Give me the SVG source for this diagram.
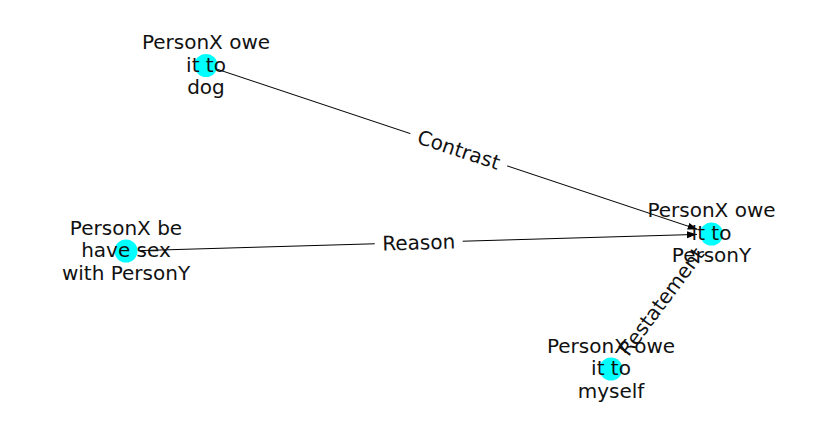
<svg xmlns="http://www.w3.org/2000/svg" width="837" height="434" viewBox="0 0 837 434">
<style>
  text { font-family: "DejaVu Sans", sans-serif; font-size: 20px; fill: #111; text-anchor: middle; }
  .edge { stroke: #000; stroke-width: 1; fill: none; marker-end: url(#arrow); }
  .lblbox { fill: #fff; stroke: none; }
  .node { fill: #00ffff; stroke: none; }
</style>
<defs>
  <marker id="arrow" markerUnits="userSpaceOnUse" markerWidth="12" markerHeight="8" refX="10" refY="3.5" orient="auto">
    <path d="M0,0 L10,3.5 L0,7 z" fill="#000"/>
  </marker>
</defs>
<rect width="837" height="434" fill="#fff"/>
<g id="edges">
  <line class="edge" x1="217.4" y1="69.3" x2="697.7" y2="229.4"/>
  <line class="edge" x1="138" y1="250.65" x2="697" y2="234.42"/>
  <line class="edge" x1="618.2" y1="359.4" x2="702.8" y2="245.6"/>
</g>
<g id="edge-labels">
  <g transform="translate(458.75,149.75) rotate(18.43)">
    <rect class="lblbox" x="-51" y="-15" width="102" height="30" rx="4"/>
    <text y="7">Contrast</text>
  </g>
  <g transform="translate(418.75,242.5) rotate(-1.66)">
    <rect class="lblbox" x="-44" y="-15" width="88" height="30" rx="4"/>
    <text y="7">Reason</text>
  </g>
  <g transform="translate(661.25,301.5) rotate(-53.34)">
    <rect class="lblbox" x="-72" y="-15" width="144" height="30" rx="4"/>
    <text y="7">Restatement</text>
  </g>
</g>
<g id="node-dog">
  <circle class="node" cx="206" cy="65.5" r="11.5"/>
  <text x="206" y="49">PersonX owe</text>
  <text x="206" y="71.5">it to</text>
  <text x="206" y="94">dog</text>
</g>
<g id="node-persony">
  <circle class="node" cx="711.5" cy="234" r="11.5"/>
  <text x="711.5" y="217">PersonX owe</text>
  <text x="711.5" y="239.5">it to</text>
  <text x="711.5" y="262">PersonY</text>
</g>
<g id="node-sex">
  <circle class="node" cx="126" cy="251" r="11.5"/>
  <text x="126" y="234.5">PersonX be</text>
  <text x="126" y="257">have sex</text>
  <text x="126" y="279.5">with PersonY</text>
</g>
<g id="node-myself">
  <circle class="node" cx="611" cy="369" r="11.5"/>
  <text x="611" y="352.5">PersonX owe</text>
  <text x="611" y="375">it to</text>
  <text x="611" y="397.5">myself</text>
</g>
</svg>
